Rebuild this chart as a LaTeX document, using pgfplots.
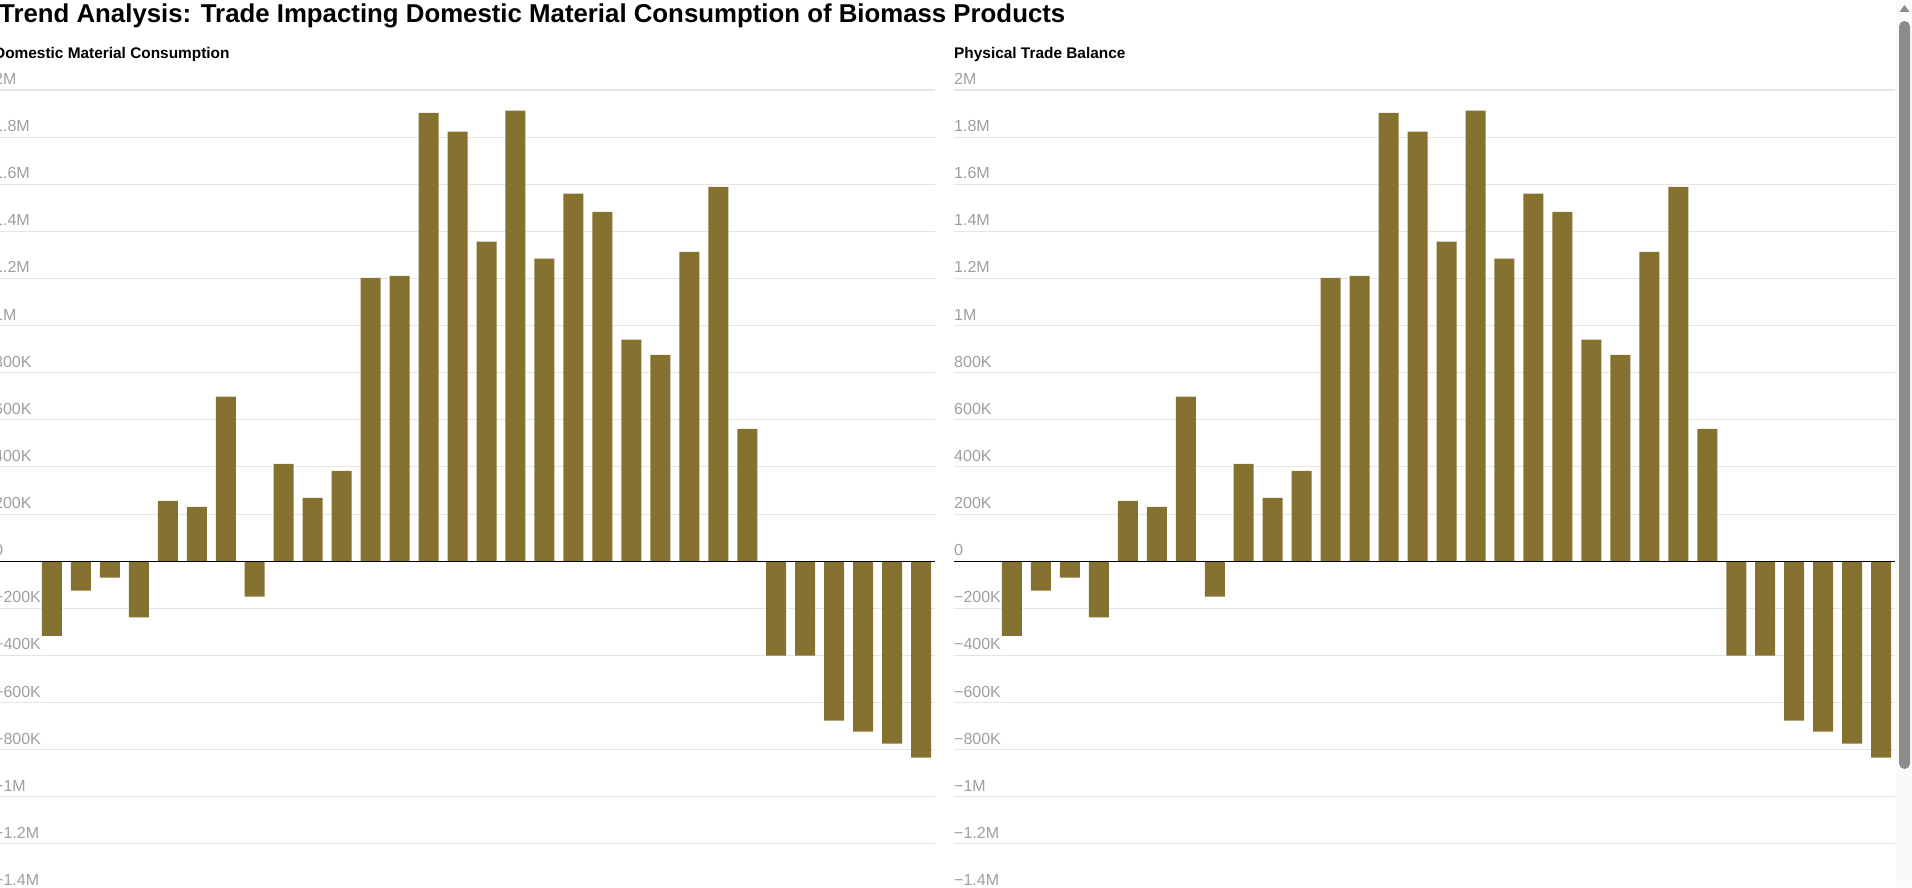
\documentclass[border=0pt]{standalone}
\usepackage{pgfplots}
\pgfplotsset{compat=1.18}
\usepackage{pgfplotstable}
\usepackage{fontspec}
\setmainfont{Liberation Sans}
\definecolor{barc}{RGB}{133,114,49}
\definecolor{gridc}{RGB}{229,229,229}
\definecolor{tickc}{RGB}{158,158,158}
\definecolor{thumbc}{RGB}{140,140,140}
\definecolor{trackc}{RGB}{250,250,250}

% values in thousands
\pgfplotstableread{
x y
0 -317
1 -125
2 -70
3 -239
4 256
5 230
6 698
7 -150
8 413
9 269
10 383
11 1203
12 1211
13 1903
14 1823
15 1356
16 1912
17 1284
18 1560
19 1483
20 940
21 876
22 1313
23 1589
24 562
25 -401
26 -401
27 -677
28 -723
29 -774
30 -834
}\dmctable

\pgfplotstableread{
x y
0 -317
1 -125
2 -70
3 -239
4 256
5 230
6 698
7 -150
8 413
9 269
10 383
11 1203
12 1211
13 1903
14 1823
15 1356
16 1912
17 1284
18 1560
19 1483
20 940
21 876
22 1313
23 1589
24 562
25 -401
26 -401
27 -677
28 -723
29 -774
30 -834
}\ptbtable

\pgfplotsset{panel/.style={
  scale only axis, width=941pt, height=801pt, anchor=south west,
  xmin=-2, xmax=30.48, ymin=-1400, ymax=2000,
  axis line style={draw=none}, xtick=\empty,
  ytick={-1400,-1200,-1000,-800,-600,-400,-200,0,200,400,600,800,1000,1200,1400,1600,1800,2000},
  yticklabels={−1.4M,−1.2M,−1M,−800K,−600K,−400K,−200K,0,200K,400K,600K,800K,1M,1.2M,1.4M,1.6M,1.8M,2M},
  ymajorgrids, major grid style={gridc, line width=1.1pt},
  major tick length=0pt,
  yticklabel style={anchor=base west, inner sep=0pt, xshift=0pt, yshift=5.5pt,
    font=\fontsize{16}{16}\selectfont, text=tickc},
  ybar, bar width=20pt,
}}

\begin{document}
\begin{tikzpicture}
\useasboundingbox (0pt,0pt) rectangle (1912pt,887pt);
\clip (0pt,0pt) rectangle (1912pt,887pt);

\begin{axis}[panel, at={(-6pt,-4pt)}]
\addplot[fill=barc, draw=none] table[x=x,y=y]{\dmctable};
\draw[black, line width=1.2pt] (axis cs:-2,0) -- (axis cs:30.48,0);
\end{axis}

\begin{axis}[panel, at={(954pt,-4pt)}]
\addplot[fill=barc, draw=none] table[x=x,y=y]{\ptbtable};
\draw[black, line width=1.2pt] (axis cs:-2,0) -- (axis cs:30.48,0);
\end{axis}

\node[anchor=base west, inner sep=0pt, font=\bfseries\fontsize{25.8}{26}\selectfont] at (-1pt,864pt)
  {Trend Analysis: Trade Impacting Domestic Material Consumption of Biomass Products};
\node[anchor=base west, inner sep=0pt, font=\bfseries\fontsize{15.4}{16}\selectfont] at (-6pt,828pt)
  {Domestic Material Consumption};
\node[anchor=base west, inner sep=0pt, font=\bfseries\fontsize{15.4}{16}\selectfont] at (954pt,828pt)
  {Physical Trade Balance};

% scrollbar
\fill[trackc] (1896pt,0pt) rectangle (1912pt,887pt);
\fill[thumbc, rounded corners=5.5pt] (1899pt,118pt) rectangle (1910pt,866pt);
\fill[thumbc] (1899.5pt,875pt) -- (1909.5pt,875pt) -- (1904.5pt,882pt) -- cycle;
\end{tikzpicture}
\end{document}
